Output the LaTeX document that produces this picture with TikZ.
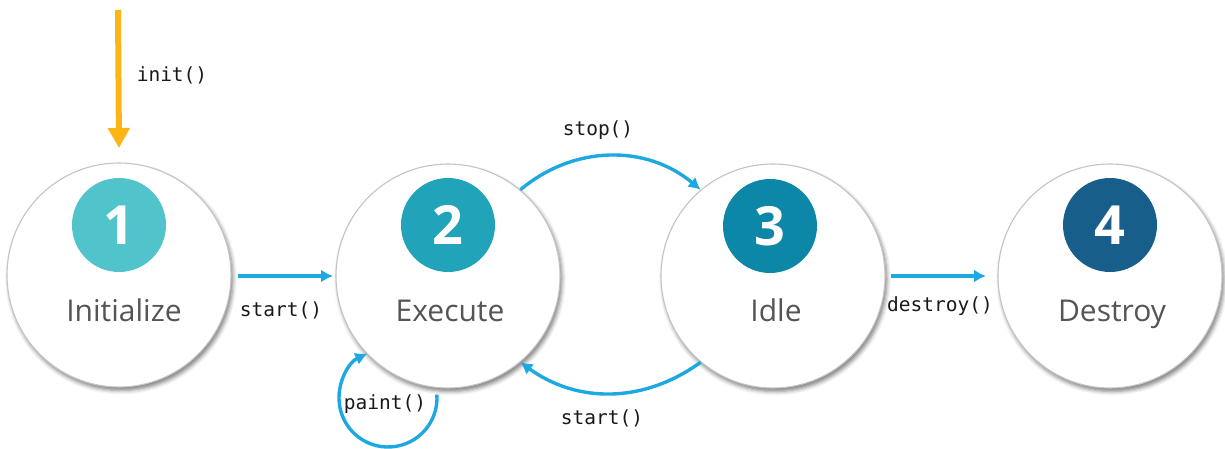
\documentclass[tikz,border=0pt]{standalone}
\usepackage{fontspec}
\usetikzlibrary{arrows.meta,shadows.blur}
\newfontfamily\labelfont{Open Sans}
\newfontfamily\codefont{DejaVu Sans Mono}
\definecolor{ringgray}{RGB}{196,196,196}
\definecolor{textgray}{RGB}{85,85,85}
\definecolor{codegray}{RGB}{25,25,25}
\definecolor{flowblue}{RGB}{30,168,226}
\definecolor{initorange}{RGB}{252,182,20}
\definecolor{stepA}{RGB}{80,196,202}
\definecolor{stepB}{RGB}{33,164,186}
\definecolor{stepC}{RGB}{12,135,168}
\definecolor{stepD}{RGB}{24,94,138}
\tikzset{
  stage/.style={circle, draw=ringgray, line width=1.1pt, fill=white,
    minimum size=224pt, inner sep=0pt,
    blur shadow={shadow xshift=2pt, shadow yshift=-3.5pt, shadow blur radius=4pt, shadow opacity=50}},
  badge/.style={circle, minimum size=94pt, inner sep=0pt, text=white,
    font=\labelfont\bfseries\fontsize{54}{54}\selectfont},
  stagename/.style={text=textgray, anchor=base, inner sep=0pt,
    font=\labelfont\fontsize{30}{30}\selectfont},
  codelabel/.style={text=codegray, inner sep=0pt,
    font=\codefont\fontsize{19.5}{19.5}\selectfont},
  flow/.style={draw=flowblue, line width=3.4pt,
    -{Latex[length=12pt,width=13pt]}},
}
\begin{document}
\begin{tikzpicture}[x=1pt,y=-1pt]
\useasboundingbox (0,0) rectangle (1225,449);

% the four life-cycle stages
\node[stage] (s1) at (119,275) {};
\node[stage] (s2) at (448,276) {};
\node[stage] (s3) at (773,276) {};
\node[stage] (s4) at (1110,276) {};

\node[badge, fill=stepA] (b1) at (119,225) {1};
\node[badge, fill=stepB] (b2) at (448,225) {2};
\node[badge, fill=stepC] (b3) at (770,226) {3};
\node[badge, fill=stepD] (b4) at (1110,225) {4};

\node[stagename] (n1) at (124,321) {Initialize};
\node[stagename] (n2) at (450,321) {Execute};
\node[stagename] (n3) at (776,321) {Idle};
\node[stagename] (n4) at (1112,321) {Destroy};

% entry arrow
\coordinate (entry) at (118,10);
\draw[draw=initorange, line width=6pt, -{Triangle[length=20pt,width=21pt]}]
  (entry) -- (s1.north |- 0,148);
\node[codelabel] (linit) at (172,75) {init()};

% transitions
\coordinate (a1) at (238,276);
\coordinate (a2) at (333,276);
\draw[flow] (a1) -- (a2);
\node[codelabel] (lstart1) at (281,310) {start()};

\draw[flow] (s2.50) to[bend left=40] (s3.130);
\node[codelabel] (lstop) at (598,130) {stop()};

\draw[flow] (s3.-130) to[bend left=36] (s2.-50);
\node[codelabel] (lstart2) at (602,418) {start()};

\coordinate (d1) at (891,276);
\coordinate (d2) at (986,276);
\draw[flow] (d1) -- (d2);
\node[codelabel] (ldestroy) at (940,306) {destroy()};

% repaint loop on the execute stage
\coordinate (loopc) at (388,398);
\draw[flow] ([shift={(-4:49)}]loopc) arc[start angle=-4, end angle=245, radius=49];
\node[codelabel] (lpaint) at (385,404) {paint()};
\end{tikzpicture}
\end{document}
